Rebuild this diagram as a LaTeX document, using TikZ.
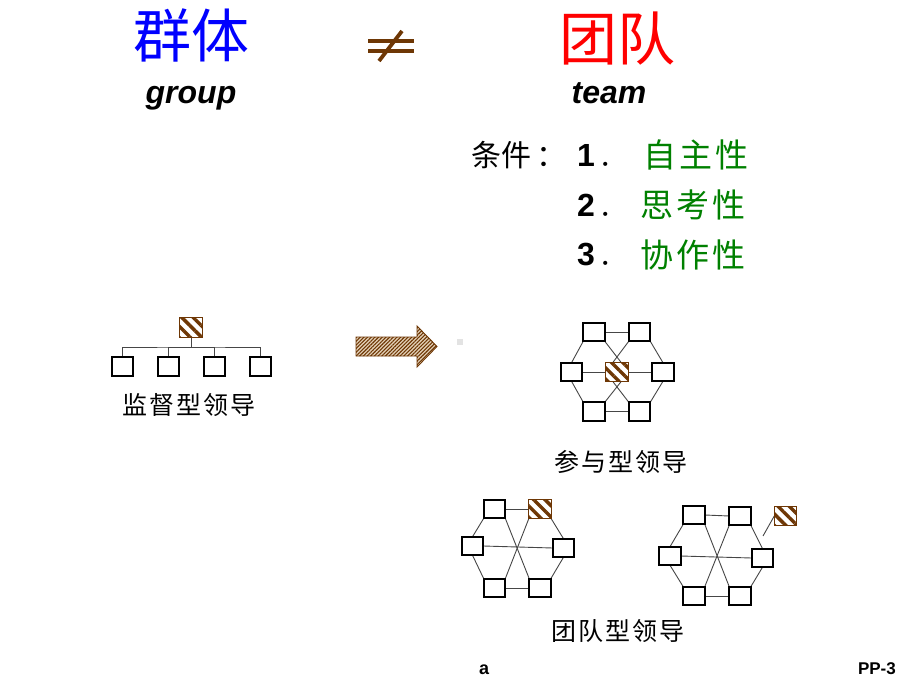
\documentclass[tikz,border=0pt]{standalone}
\usepackage{fontspec}
\setmainfont{Liberation Sans}
\newfontfamily\cjk{Noto Sans CJK SC}
\usetikzlibrary{patterns.meta,backgrounds}
\definecolor{brn}{RGB}{110,55,5}
\definecolor{grn}{RGB}{0,128,0}
\definecolor{beige}{RGB}{228,210,185}
\definecolor{conn}{RGB}{70,70,70}
\tikzset{
  box/.style={draw=black, line width=1.8pt, fill=white, minimum width=21.5pt, minimum height=18.5pt, inner sep=0pt, outer sep=0pt},
  hbox/.style={draw=brn, line width=1.4pt, preaction={fill=white}, pattern={Lines[angle=-45,distance=8pt,line width=3.4pt]}, pattern color=brn, minimum width=22.5pt, minimum height=19.5pt, inner sep=0pt, outer sep=0pt},
  link/.style={draw=conn, line width=0.9pt},
  lbl/.style={font=\cjk\fontsize{25}{27}\selectfont, inner sep=0pt},
  big/.style={font=\cjk\fontsize{58}{60}\selectfont, inner sep=0pt},
  eng/.style={font=\bfseries\itshape\fontsize{32}{34}\selectfont, inner sep=0pt, anchor=base},
  cond/.style={font=\cjk\fontsize{33}{35}\selectfont, text=grn, inner sep=0pt, anchor=west},
  num/.style={font=\bfseries\fontsize{32}{34}\selectfont, inner sep=0pt, anchor=west},
}
\newcommand\hexlinks[1]{%
  \draw[link] (#1tl.east) -- (#1tr.west);
  \draw[link] (#1bl.east) -- (#1br.west);
  \draw[link] (#1ml.east) -- (#1mr.west);
  \draw[link] (#1tl.south west) -- (#1ml.north);
  \draw[link] (#1ml.south) -- (#1bl.north west);
  \draw[link] (#1tr.south east) -- (#1mr.north);
  \draw[link] (#1mr.south) -- (#1br.north east);
  \draw[link] (#1tl.south east) -- (#1br.north west);
  \draw[link] (#1tr.south west) -- (#1bl.north east);
}
\newcommand\numdot{{\mdseries\kern4pt\cjk\fontsize{26}{28}\selectfont ．}}
\begin{document}
\begin{tikzpicture}[x=1pt,y=-1pt]
\useasboundingbox (0,0) rectangle (920,690);

% titles
\node[big, text=blue] (qt) at (191,35) {群体};
\node[eng] (grp) at (191,104) {group};
\node[big, text=red] (td) at (617,39) {团队};
\node[eng] (tm) at (609,104) {team};
% not equal sign
\draw[brn, line width=3.5pt] (368,41) -- (414,41);
\draw[brn, line width=3.5pt] (368,51) -- (414,51);
\draw[brn, line width=3.8pt] (379,61) -- (402,31);

% conditions
\node[anchor=west, font=\cjk\fontsize{30}{32}\selectfont, inner sep=0pt] (tj) at (471,155) {条件\kern5pt ：};
\node[num] (n1) at (577,155) {1\numdot};
\node[num] (n2) at (577,205) {2\numdot};
\node[num] (n3) at (577,255) {3\numdot};
\node[cond] (c1) at (643,155) {自\kern3pt 主\kern3pt 性};
\node[cond] (c2) at (640,205) {思\kern3pt 考\kern3pt 性};
\node[cond] (c3) at (640,255) {协\kern3pt 作\kern3pt 性};

% supervisory leadership
\node[hbox] (boss) at (191,327.5) {};
\node[box, minimum height=19.5pt] (w1) at (122.5,366.5) {};
\node[box, minimum height=19.5pt] (w2) at (168.5,366.5) {};
\node[box, minimum height=19.5pt] (w3) at (214.5,366.5) {};
\node[box, minimum height=19.5pt] (w4) at (260.5,366.5) {};
\coordinate (bus) at (191,347);
\begin{pgfonlayer}{background}
\draw[link] (boss.south) -- (bus);
\draw[link] (w1.north) |- (bus) -| (w4.north);
\draw[link] (w2.north) |- (bus);
\draw[link] (w3.north) |- (bus);
\end{pgfonlayer}
\node[lbl] (l1) at (188.5,405) {监\kern2pt 督\kern2pt 型\kern2pt 领\kern2pt 导};

% arrow
\draw[draw=brn, line width=0.9pt, preaction={fill=beige}, pattern={Lines[angle=45,distance=2.6pt,line width=1.1pt]}, pattern color=brn]
  (356,337) -- (417,337) -- (417,326) -- (437,346.5) -- (417,367) -- (417,356) -- (356,356) -- cycle;
\fill[gray!22] (457,339) rectangle (463,345);

% participative leadership
\node[box] (ptl) at (594,332) {};
\node[box] (ptr) at (639.5,332) {};
\node[box] (pml) at (571.5,372) {};
\node[hbox] (pc) at (617,372) {};
\node[box] (pmr) at (663,372) {};
\node[box] (pbl) at (594,411.5) {};
\node[box] (pbr) at (639.5,411.5) {};
\begin{pgfonlayer}{background}
\draw[link] (ptl.east) -- (ptr.west);
\draw[link] (pbl.east) -- (pbr.west);
\draw[link] (pml.east) -- (pc.west);
\draw[link] (pc.east) -- (pmr.west);
\draw[link] (ptl.south west) -- (pml.north);
\draw[link] (pml.south) -- (pbl.north west);
\draw[link] (ptr.south east) -- (pmr.north);
\draw[link] (pmr.south) -- (pbr.north east);
\draw[link] (ptl.south east) -- ([xshift=4pt]pc.north);
\draw[link] (ptr.south west) -- ([xshift=-4pt]pc.north);
\draw[link] ([xshift=-4pt]pc.south) -- (pbr.north west);
\draw[link] ([xshift=4pt]pc.south) -- (pbl.north east);
\end{pgfonlayer}
\node[lbl] (l2) at (621,462) {参\kern2pt 与\kern2pt 型\kern2pt 领\kern2pt 导};

% team leadership 1
\node[box] (atl) at (494.5,509) {};
\node[hbox] (atr) at (540,509) {};
\node[box] (aml) at (472.5,546) {};
\node[box] (amr) at (563.5,548) {};
\node[box] (abl) at (494.5,588) {};
\node[box] (abr) at (540,588) {};
\begin{pgfonlayer}{background}
\hexlinks{a}
\end{pgfonlayer}

% team leadership 2
\node[box] (btl) at (694,515) {};
\node[box] (btr) at (740,516) {};
\node[box] (bml) at (670,556) {};
\node[box] (bmr) at (762.5,558) {};
\node[box] (bbl) at (694,596) {};
\node[box] (bbr) at (740,596) {};
\node[hbox] (bh) at (785.5,516) {};
\coordinate (bhend) at (763,536);
\begin{pgfonlayer}{background}
\hexlinks{b}
\draw[link] (bh.west) -- (bhend);
\end{pgfonlayer}
\node[lbl] (l3) at (618,631) {团\kern2pt 队\kern2pt 型\kern2pt 领\kern2pt 导};

% footer
\node[font=\bfseries\fontsize{18}{20}\selectfont, inner sep=0pt, anchor=base] (fa) at (484,674) {a};
\node[font=\bfseries\fontsize{17}{19}\selectfont, inner sep=0pt, anchor=base east] (fp) at (896,674) {PP-3};
\end{tikzpicture}
\end{document}
